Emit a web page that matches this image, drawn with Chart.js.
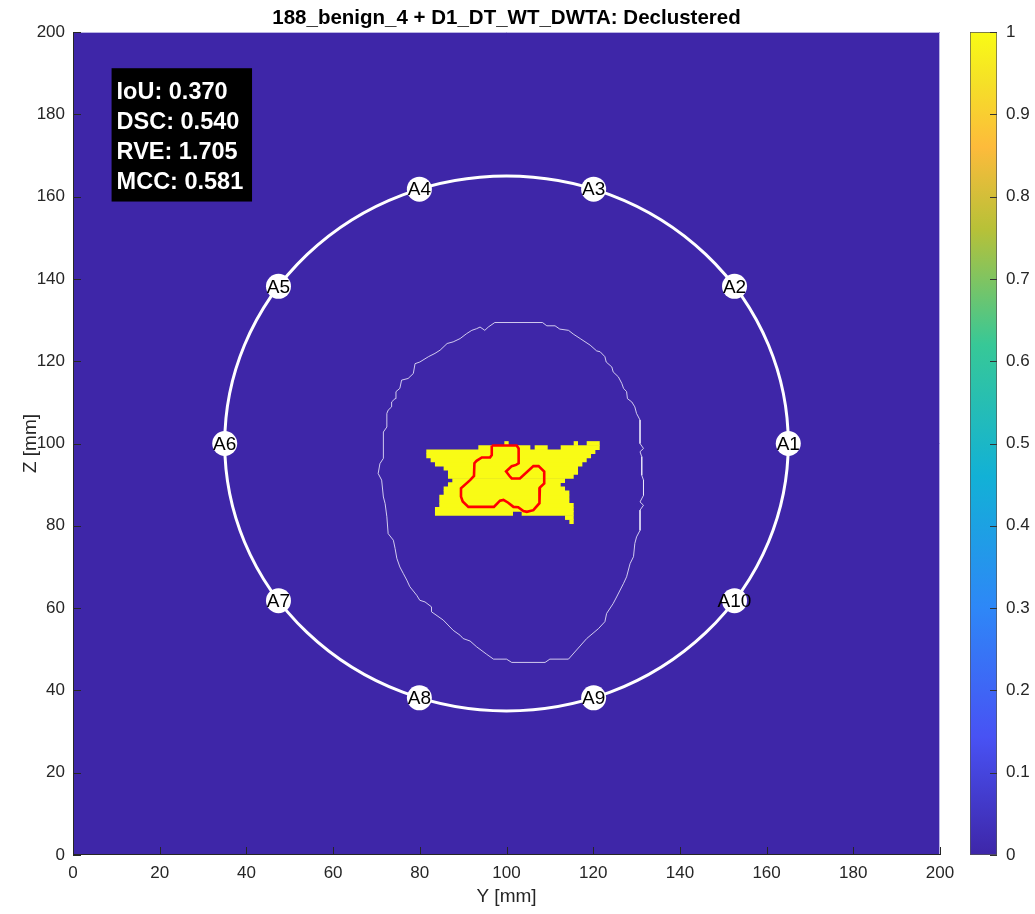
<!doctype html>
<html lang="en">
<head>
  <meta charset="utf-8" />
  <title>188_benign_4 + D1_DT_WT_DWTA: Declustered</title>
  <script src="https://cdn.jsdelivr.net/npm/chart.js"></script>
  <style>
    body { margin: 0; background: #fff; }
    .wrap { position: relative; width: 1035px; height: 914px; }
    canvas { position: absolute; top: 0; }
    #mapChart { left: 0; }
    #barChart { left: 940px; }
  </style>
</head>
<body>
  <div class="wrap">
    <canvas id="mapChart" width="1035" height="914"></canvas>
    <canvas id="barChart" width="95" height="914"></canvas>
  </div>

  <script>
    // --- data (mm) ---
    const titleText = '188_benign_4 + D1_DT_WT_DWTA: Declustered';
    const gridTicks = [0, 20, 40, 60, 80, 100, 120, 140, 160, 180, 200];

    const metricNames = ['IoU', 'DSC', 'RVE', 'MCC'];
    const metricValues = ['0.370', '0.540', '1.705', '0.581'];

    // electrode ring
    const ringCenter = [100, 100];
    const ringRadius = 65;
    const electrodeNames = ['A1', 'A2', 'A3', 'A4', 'A5', 'A6', 'A7', 'A8', 'A9', 'A10'];
    const electrodeY = [165, 152.6, 120.1, 79.9, 47.4, 35, 47.4, 79.9, 120.1, 152.6];
    const electrodeZ = [100, 138.2, 161.8, 161.8, 138.2, 100, 61.8, 38.2, 38.2, 61.8];

    // reconstruction mask (value 1), one span of 1 mm cells per entry
    const maskRow  = [100, 100, 100, 99, 99, 99, 98, 97, 96, 95, 94, 93, 92, 91, 90, 89, 88, 87, 86, 85, 84, 83, 83, 82, 81];
    const maskFrom = [100, 116, 119, 94, 107, 113, 82, 82, 83, 84, 86, 87, 87, 88, 87, 86, 86, 85, 85, 85, 84, 84, 104, 114, 115];
    const maskTo   = [100, 116, 121, 105, 109, 121, 120, 119, 118, 117, 116, 116, 115, 113, 112, 113, 114, 114, 114, 115, 115, 101, 115, 115, 115];

    // body outline (thin white)
    const outlineY = [97.3, 108.3, 109.3, 111.2, 112.3, 114.3, 115.4, 117.0, 119.3, 120.8, 121.6, 122.7, 123.0, 124.3, 124.6, 125.8, 126.6, 127.0, 127.7, 127.9, 128.9, 129.6, 130.0, 130.8, 130.8, 131.6, 130.8, 131.2, 131.2, 131.6, 131.6, 130.8, 131.6, 130.8, 130.8, 130.0, 129.6, 129.3, 128.5, 127.7, 127.0, 125.4, 124.6, 123.1, 122.7, 121.2, 118.5, 114.3, 110.0, 108.9, 101.2, 100.0, 97.0, 95.4, 93.1, 91.6, 90.0, 89.3, 87.7, 85.4, 82.7, 82.7, 81.2, 80.0, 79.3, 77.7, 77.0, 76.2, 75.4, 74.7, 74.3, 73.9, 72.7, 72.4, 72.0, 71.6, 71.2, 70.4, 70.8, 71.6, 71.6, 72.4, 72.4, 72.7, 73.5, 73.5, 74.3, 74.5, 75.4, 75.8, 77.3, 78.5, 78.9, 80.0, 82.0, 83.5, 84.7, 86.3, 87.7, 89.3, 90.8, 92.0, 93.1, 93.9, 95.0, 95.8, 97.3];
    const outlineZ = [129.4, 129.4, 128.6, 128.6, 127.8, 127.5, 126.6, 125.5, 123.9, 122.5, 122.3, 121.1, 119.8, 118.6, 117.4, 116.2, 114.6, 113.4, 112.6, 110.9, 110.1, 108.9, 107.3, 105.7, 100.0, 98.8, 98.0, 96.8, 92.3, 91.1, 87.4, 85.8, 85.0, 83.8, 78.9, 77.3, 75.7, 72.5, 70.8, 67.6, 66.0, 62.7, 61.1, 58.7, 56.7, 55.0, 52.6, 47.6, 47.6, 46.8, 46.8, 47.6, 47.6, 48.8, 50.6, 52.0, 52.6, 53.4, 54.6, 57.1, 59.1, 60.3, 61.5, 61.9, 63.1, 65.2, 66.8, 68.4, 70.0, 72.1, 74.5, 76.5, 78.1, 82.2, 85.4, 87.0, 91.1, 92.7, 95.1, 96.4, 102.8, 104.0, 107.3, 108.1, 108.9, 110.1, 110.9, 112.6, 113.4, 115.4, 115.8, 117.0, 119.4, 119.8, 121.1, 121.9, 122.7, 124.3, 124.7, 125.5, 126.7, 127.5, 127.9, 128.3, 127.5, 128.3, 129.4];

    // true inclusion outline (red)
    const truthY = [96.6, 102.35, 102.8, 102.8, 102.2, 101.2, 99.9, 100.7, 101.2, 103.1, 106.2, 107.4, 108.7, 108.7, 107.7, 107.6, 106.2, 104.7, 103.9, 102.7, 101.6, 100.4, 99.3, 98.5, 97.1, 91.2, 89.9, 89.5, 89.5, 91.6, 92.5, 92.6, 93.1, 94.3, 96.2, 96.6, 96.6];
    const truthZ = [99.5, 99.5, 98.8, 95.2, 94.8, 94.5, 93.2, 92.1, 91.5, 91.5, 94.5, 94.5, 93.2, 90.3, 89.3, 85.5, 83.8, 83.4, 83.6, 84.5, 84.6, 85.6, 86.3, 86.1, 84.6, 84.6, 85.9, 87.1, 89.1, 91.1, 92.1, 95.2, 95.8, 96.6, 96.6, 97.2, 99.5];

    // colour bar (parula)
    const cbTicks = [0, 0.1, 0.2, 0.3, 0.4, 0.5, 0.6, 0.7, 0.8, 0.9, 1];
    const parulaStops = [0, 0.143, 0.30, 0.46, 0.62, 0.76, 0.86, 0.94, 1];
    const parulaColors = ['#3e26a8', '#4852f4', '#2e87f7', '#12b1d6', '#37c897', '#b7c138', '#fdbb3b', '#f5e127', '#f9fb15'];

    const FONT = "'Liberation Sans', Arial, Helvetica, sans-serif";
    const TEXT = '#262626';
    Chart.defaults.font.family = FONT;
    Chart.defaults.color = TEXT;
    Chart.defaults.animation = false;

    const toPoints = (xs, ys) => xs.map((v, i) => ({ x: v, y: ys[i] }));

    // yellow cells: each span is a thick butt-capped stroke one row high
    const maskSets = maskRow.map((r, i) => ({
      data: [{ x: maskFrom[i] - 0.5, y: r }, { x: maskTo[i] + 0.5, y: r }],
      showLine: true,
      borderWidth: 4.7,
      borderCapStyle: 'butt',
      borderColor: '#f9fb15',
      pointRadius: 0,
      fill: false,
      order: 10
    }));

    const mapPlugin = {
      id: 'mapPlugin',
      beforeDraw(chart) {
        const { ctx, chartArea: a } = chart;
        ctx.save();
        ctx.fillStyle = parulaColors[0];
        ctx.fillRect(a.left, a.top, a.right - a.left, a.bottom - a.top);
        ctx.restore();
      },
      beforeDatasetsDraw(chart) {
        const { ctx, scales: { x, y } } = chart;
        const cx = x.getPixelForValue(ringCenter[0]);
        const cy = y.getPixelForValue(ringCenter[1]);
        const rx = x.getPixelForValue(ringCenter[0] + ringRadius) - cx;
        const ry = cy - y.getPixelForValue(ringCenter[1] + ringRadius);
        ctx.save();
        ctx.strokeStyle = '#ffffff';
        ctx.lineWidth = 3;
        ctx.beginPath();
        ctx.ellipse(cx, cy, rx, ry, 0, 0, Math.PI * 2);
        ctx.stroke();
        ctx.restore();
      },
      afterDatasetsDraw(chart) {
        const { ctx, chartArea: a, scales: { x, y } } = chart;
        ctx.save();
        // electrode names
        ctx.fillStyle = '#000';
        ctx.font = '19px ' + FONT;
        ctx.textAlign = 'center';
        ctx.textBaseline = 'middle';
        electrodeNames.forEach((n, i) => {
          ctx.fillText(n, x.getPixelForValue(electrodeY[i]), y.getPixelForValue(electrodeZ[i]) + 1);
        });

        // metrics box
        const bx0 = x.getPixelForValue(8.9), bx1 = x.getPixelForValue(41.3);
        const by0 = y.getPixelForValue(191.2), by1 = y.getPixelForValue(158.8);
        ctx.fillStyle = '#000';
        ctx.fillRect(bx0, by0, bx1 - bx0, by1 - by0);
        ctx.fillStyle = '#fff';
        ctx.font = 'bold 23.5px ' + FONT;
        ctx.textAlign = 'left';
        ctx.textBaseline = 'alphabetic';
        metricNames.forEach((n, i) => {
          ctx.fillText(n + ': ' + metricValues[i], bx0 + 5, by0 + 31 + i * 30);
        });

        // axes box
        ctx.lineWidth = 1;
        ctx.strokeStyle = '#b9b3e3';
        ctx.beginPath();
        ctx.moveTo(a.left, a.top + 0.5); ctx.lineTo(a.right - 0.5, a.top + 0.5); ctx.lineTo(a.right - 0.5, a.bottom);
        ctx.stroke();
        ctx.strokeStyle = TEXT;
        ctx.beginPath();
        ctx.moveTo(a.left + 0.5, a.top); ctx.lineTo(a.left + 0.5, a.bottom - 0.5); ctx.lineTo(a.right, a.bottom - 0.5);
        gridTicks.forEach(v => {
          const px = Math.round(x.getPixelForValue(v)) + 0.5;
          ctx.moveTo(px, a.bottom); ctx.lineTo(px, a.bottom - 8);
          const py = Math.round(y.getPixelForValue(v)) + 0.5;
          ctx.moveTo(a.left, py); ctx.lineTo(a.left + 8, py);
        });
        ctx.stroke();

        // title
        ctx.fillStyle = '#000';
        ctx.font = 'bold 20.5px ' + FONT;
        ctx.textAlign = 'center';
        ctx.fillText(titleText, (a.left + a.right) / 2, 24);
        ctx.restore();
      }
    };

    new Chart(document.getElementById('mapChart'), {
      type: 'scatter',
      data: {
        datasets: [
          {
            data: toPoints(electrodeY, electrodeZ),
            pointRadius: 12.5, pointBackgroundColor: '#ffffff', pointBorderWidth: 0,
            showLine: false, order: 0
          },
          {
            data: toPoints(truthY, truthZ),
            showLine: true, borderColor: '#ff0000', borderWidth: 2.6, pointRadius: 0,
            fill: false, order: 1
          },
          {
            data: toPoints(outlineY, outlineZ),
            showLine: true, borderColor: 'rgba(235,232,250,0.85)', borderWidth: 1, pointRadius: 0,
            fill: false, order: 3
          },
          ...maskSets
        ]
      },
      options: {
        responsive: false,
        events: [],
        layout: { padding: { top: 32, right: 95, left: 0, bottom: 0 } },
        plugins: { legend: { display: false }, tooltip: { enabled: false } },
        scales: {
          x: {
            type: 'linear', min: 0, max: 200,
            afterBuildTicks: s => { s.ticks = gridTicks.map(v => ({ value: v })); },
            afterFit: s => { s.height = 59; },
            grid: { display: false, drawTicks: false },
            border: { display: false },
            ticks: { font: { size: 17 }, color: TEXT, padding: 8, maxRotation: 0 },
            title: { display: true, text: 'Y [mm]', font: { size: 19 }, color: TEXT, padding: { top: 0, bottom: 6 } }
          },
          y: {
            type: 'linear', min: 0, max: 200,
            afterBuildTicks: s => { s.ticks = gridTicks.map(v => ({ value: v })); },
            afterFit: s => { s.width = 73; },
            grid: { display: false, drawTicks: false },
            border: { display: false },
            ticks: { font: { size: 17 }, color: TEXT, padding: 8 },
            title: { display: true, text: 'Z [mm]', font: { size: 19 }, color: TEXT, padding: { top: 19, bottom: 0 } }
          }
        }
      },
      plugins: [mapPlugin]
    });

    // colour bar
    const cbPlugin = {
      id: 'cbPlugin',
      afterDraw(chart) {
        const { ctx, chartArea: a, scales: { y } } = chart;
        ctx.save();
        ctx.strokeStyle = '#333';
        ctx.lineWidth = 1;
        ctx.beginPath();
        cbTicks.forEach(v => {
          const py = Math.round(y.getPixelForValue(v)) + 0.5;
          ctx.moveTo(a.right - 7, py); ctx.lineTo(a.right, py);
        });
        ctx.stroke();
        ctx.restore();
      }
    };

    new Chart(document.getElementById('barChart'), {
      type: 'bar',
      data: {
        labels: [''],
        datasets: [{
          data: [[0, 1]],
          backgroundColor: c => {
            const a = c.chart.chartArea;
            if (!a) return parulaColors[0];
            const g = c.chart.ctx.createLinearGradient(0, a.bottom, 0, a.top);
            parulaStops.forEach((s, i) => g.addColorStop(s, parulaColors[i]));
            return g;
          },
          borderColor: '#555',
          borderWidth: 1,
          borderSkipped: false,
          barPercentage: 1,
          categoryPercentage: 1
        }]
      },
      options: {
        responsive: false,
        events: [],
        layout: { padding: { top: 32, left: 30, right: 0, bottom: 59 } },
        plugins: { legend: { display: false }, tooltip: { enabled: false } },
        scales: {
          x: { display: false },
          y: {
            position: 'right', min: 0, max: 1,
            afterBuildTicks: s => { s.ticks = cbTicks.map(v => ({ value: v })); },
            afterFit: s => { s.width = 38; },
            grid: { display: false, drawTicks: false },
            border: { display: false },
            ticks: { font: { size: 17 }, color: TEXT, padding: 9, callback: v => String(+v.toFixed(1)) }
          }
        }
      },
      plugins: [cbPlugin]
    });
  </script>
</body>
</html>
